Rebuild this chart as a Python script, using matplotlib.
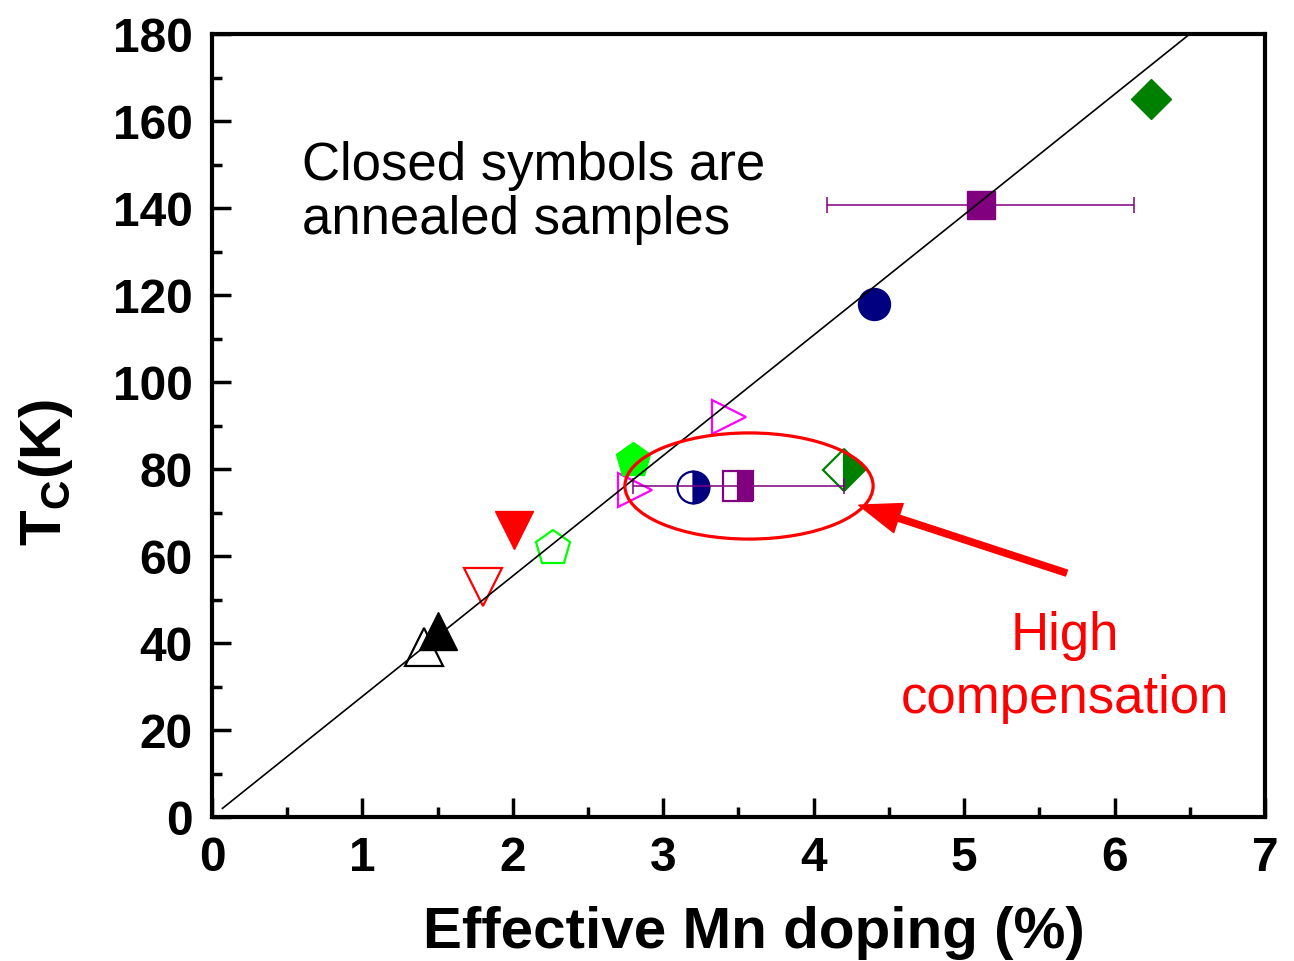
import numpy as np
import matplotlib
matplotlib.use('Agg')
import matplotlib.pyplot as plt
from matplotlib.patches import Ellipse

plt.rcParams['font.family'] = ['Liberation Sans', 'DejaVu Sans']
plt.rcParams['mathtext.fontset'] = 'custom'
plt.rcParams['mathtext.rm'] = 'Liberation Sans'
plt.rcParams['mathtext.bf'] = 'Liberation Sans:bold'

# fit line
line_x = [0.07, 6.5]
line_y = [2.0, 180.0]

# as-grown (open) samples
open_x = [1.41, 1.80, 2.27, 2.81, 3.44]
open_y = [39.0, 52.9, 61.8, 75.2, 92.0]
open_m = ['^', 'v', 'p', '>', '>']
open_c = ['black', 'red', '#00ff00', '#ff00ff', '#ff00ff']
open_s = [27, 27, 26, 25, 25]

# annealed (closed) samples
closed_x = [1.50, 2.01, 2.80, 4.40, 5.11, 6.24]
closed_y = [42.8, 66.0, 82.0, 118.0, 140.7, 165.0]
closed_m = ['^', 'v', 'p', 'o', 's', 'D']
closed_c = ['black', 'red', '#00ff00', '#000080', '#800080', '#008000']
closed_s = [27, 27, 26, 23, 20, 20]
closed_err = [0, 0, 0, 0, 1.02, 0]

# high compensation (half filled)
half_x = [3.20, 3.50, 4.20]
half_y = [75.9, 76.0, 79.8]
half_m = ['o', 's', 'D']
half_c = ['#000080', '#800080', '#008000']
half_s = [23, 21, 21]
half_err = [0, 0.7, 0]

fig = plt.figure(figsize=(12.94, 9.61), dpi=100)
ax = fig.add_axes([0.1638, 0.1498, 0.8138, 0.8148])

for x, y, m, c, s in zip(open_x, open_y, open_m, open_c, open_s):
    ax.plot(x, y, marker=m, ms=s, mfc='none', mec=c, mew=1.6, ls='none', zorder=3)

for x, y, m, c, s in zip(closed_x, closed_y, closed_m, closed_c, closed_s):
    ax.plot(x, y, marker=m, ms=s, mfc=c, mec=c, mew=1, ls='none', zorder=3)

for x, y, m, c, s in zip(half_x, half_y, half_m, half_c, half_s):
    ax.plot(x, y, marker=m, ms=s, mfc=c, mec=c, mew=1.6, fillstyle='right',
            markerfacecoloralt='white', ls='none', zorder=3)

# horizontal error bars
for x, y, e in zip(closed_x + half_x, closed_y + half_y, closed_err + half_err):
    if e > 0:
        ax.errorbar(x, y, xerr=e, fmt='none', ecolor='#800080', elinewidth=1.1,
                    capsize=6, capthick=1.1, zorder=4)

ax.plot(line_x, line_y, color='black', lw=1.2, zorder=5)

ax.add_patch(Ellipse((3.57, 76.1), 1.65, 24.4, fill=False, ec='red', lw=2.3, zorder=6))
ax.annotate('', xy=(4.30, 71.7), xytext=(5.68, 56.1),
            arrowprops=dict(color='red', width=4.5, headwidth=22, headlength=30, shrink=0))

ax.text(0.60, 146.4, 'Closed symbols are', fontsize=38, va='baseline', ha='left')
ax.text(0.60, 134.0, 'annealed samples', fontsize=38, va='baseline', ha='left')
ax.text(5.67, 38.4, 'High', fontsize=38, color='red', va='baseline', ha='center')
ax.text(5.67, 23.9, 'compensation', fontsize=38, color='red', va='baseline', ha='center')

ax.set_xlim(0, 7)
ax.set_ylim(0, 180)
ax.set_xticks(np.arange(0, 8, 1))
ax.set_yticks(np.arange(0, 181, 20))
ax.set_xticks(np.arange(0.5, 7, 1), minor=True)
ax.set_yticks(np.arange(10, 180, 20), minor=True)
ax.tick_params(which='major', direction='in', length=14, width=2.5, labelsize=34.5, pad=14)
ax.tick_params(which='minor', direction='in', length=7, width=2.5)
for lab in ax.get_xticklabels() + ax.get_yticklabels():
    lab.set_fontweight('bold')
for sp in ax.spines.values():
    sp.set_linewidth(3)

ax.set_xlabel('Effective Mn doping (%)', fontsize=42, fontweight='bold')
ax.xaxis.set_label_coords(0.515, -0.114)
ax.set_ylabel(r'$\mathbf{T_C(K)}$', fontsize=42)
ax.yaxis.set_label_coords(-0.13, 0.44)

fig.savefig('out.png', dpi=100)
